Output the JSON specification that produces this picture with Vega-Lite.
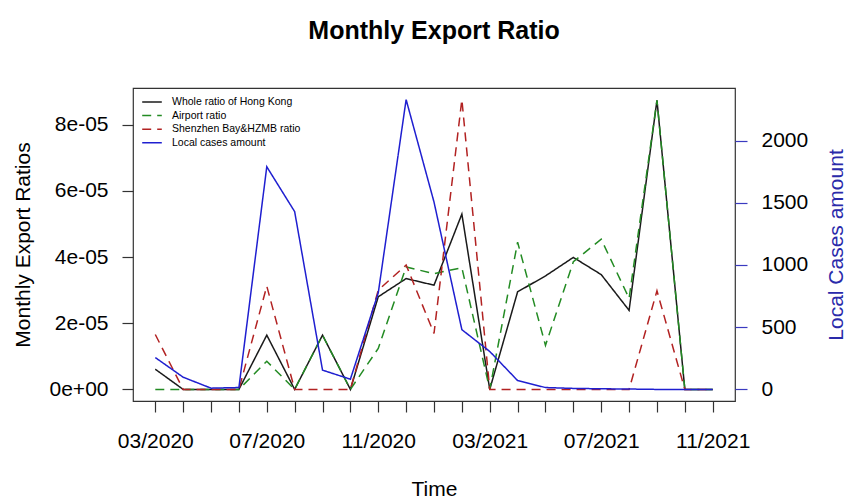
{
  "$schema": "https://vega.github.io/schema/vega-lite/v6.json",
  "width": 602,
  "height": 313,
  "autosize": {"type": "none"},
  "padding": {"left": 133, "top": 88, "right": 111, "bottom": 98},
  "background": "white",
  "config": {
    "font": "Liberation Sans",
    "view": {"stroke": "#333333", "strokeWidth": 1.2},
    "axis": {"grid": false, "domain": false}
  },
  "title": {
    "text": "Monthly Export Ratio",
    "fontSize": 25,
    "fontWeight": "bold",
    "font": "Liberation Sans",
    "color": "#000000",
    "anchor": "middle",
    "frame": "group",
    "baseline": "alphabetic",
    "offset": 24
  },
  "data": {
    "values": [
      {"month": "03/2020", "series": "Whole ratio of Hong Kong", "value": 6.1e-6},
      {"month": "04/2020", "series": "Whole ratio of Hong Kong", "value": 0},
      {"month": "05/2020", "series": "Whole ratio of Hong Kong", "value": 0},
      {"month": "06/2020", "series": "Whole ratio of Hong Kong", "value": 0},
      {"month": "07/2020", "series": "Whole ratio of Hong Kong", "value": 1.64e-5},
      {"month": "08/2020", "series": "Whole ratio of Hong Kong", "value": 0},
      {"month": "09/2020", "series": "Whole ratio of Hong Kong", "value": 1.64e-5},
      {"month": "10/2020", "series": "Whole ratio of Hong Kong", "value": 0},
      {"month": "11/2020", "series": "Whole ratio of Hong Kong", "value": 2.80e-5},
      {"month": "12/2020", "series": "Whole ratio of Hong Kong", "value": 3.35e-5},
      {"month": "01/2021", "series": "Whole ratio of Hong Kong", "value": 3.15e-5},
      {"month": "02/2021", "series": "Whole ratio of Hong Kong", "value": 5.30e-5},
      {"month": "03/2021", "series": "Whole ratio of Hong Kong", "value": 0},
      {"month": "04/2021", "series": "Whole ratio of Hong Kong", "value": 2.95e-5},
      {"month": "05/2021", "series": "Whole ratio of Hong Kong", "value": 3.43e-5},
      {"month": "06/2021", "series": "Whole ratio of Hong Kong", "value": 3.99e-5},
      {"month": "07/2021", "series": "Whole ratio of Hong Kong", "value": 3.47e-5},
      {"month": "08/2021", "series": "Whole ratio of Hong Kong", "value": 2.39e-5},
      {"month": "09/2021", "series": "Whole ratio of Hong Kong", "value": 8.74e-5},
      {"month": "10/2021", "series": "Whole ratio of Hong Kong", "value": 0},
      {"month": "11/2021", "series": "Whole ratio of Hong Kong", "value": 0},
      {"month": "03/2020", "series": "Airport ratio", "value": 0},
      {"month": "04/2020", "series": "Airport ratio", "value": 0},
      {"month": "05/2020", "series": "Airport ratio", "value": 0},
      {"month": "06/2020", "series": "Airport ratio", "value": 0},
      {"month": "07/2020", "series": "Airport ratio", "value": 8.5e-6},
      {"month": "08/2020", "series": "Airport ratio", "value": 0},
      {"month": "09/2020", "series": "Airport ratio", "value": 1.64e-5},
      {"month": "10/2020", "series": "Airport ratio", "value": 0},
      {"month": "11/2020", "series": "Airport ratio", "value": 1.24e-5},
      {"month": "12/2020", "series": "Airport ratio", "value": 3.70e-5},
      {"month": "01/2021", "series": "Airport ratio", "value": 3.50e-5},
      {"month": "02/2021", "series": "Airport ratio", "value": 3.68e-5},
      {"month": "03/2021", "series": "Airport ratio", "value": 0},
      {"month": "04/2021", "series": "Airport ratio", "value": 4.45e-5},
      {"month": "05/2021", "series": "Airport ratio", "value": 1.33e-5},
      {"month": "06/2021", "series": "Airport ratio", "value": 3.86e-5},
      {"month": "07/2021", "series": "Airport ratio", "value": 4.54e-5},
      {"month": "08/2021", "series": "Airport ratio", "value": 2.75e-5},
      {"month": "09/2021", "series": "Airport ratio", "value": 8.74e-5},
      {"month": "10/2021", "series": "Airport ratio", "value": 0},
      {"month": "11/2021", "series": "Airport ratio", "value": 0},
      {"month": "03/2020", "series": "Shenzhen Bay&HZMB ratio", "value": 1.66e-5},
      {"month": "04/2020", "series": "Shenzhen Bay&HZMB ratio", "value": 0},
      {"month": "05/2020", "series": "Shenzhen Bay&HZMB ratio", "value": 0},
      {"month": "06/2020", "series": "Shenzhen Bay&HZMB ratio", "value": 0},
      {"month": "07/2020", "series": "Shenzhen Bay&HZMB ratio", "value": 3.12e-5},
      {"month": "08/2020", "series": "Shenzhen Bay&HZMB ratio", "value": 0},
      {"month": "09/2020", "series": "Shenzhen Bay&HZMB ratio", "value": 0},
      {"month": "10/2020", "series": "Shenzhen Bay&HZMB ratio", "value": 0},
      {"month": "11/2020", "series": "Shenzhen Bay&HZMB ratio", "value": 3.00e-5},
      {"month": "12/2020", "series": "Shenzhen Bay&HZMB ratio", "value": 3.76e-5},
      {"month": "01/2021", "series": "Shenzhen Bay&HZMB ratio", "value": 1.69e-5},
      {"month": "02/2021", "series": "Shenzhen Bay&HZMB ratio", "value": 8.76e-5},
      {"month": "03/2021", "series": "Shenzhen Bay&HZMB ratio", "value": 0},
      {"month": "04/2021", "series": "Shenzhen Bay&HZMB ratio", "value": 0},
      {"month": "05/2021", "series": "Shenzhen Bay&HZMB ratio", "value": 0},
      {"month": "06/2021", "series": "Shenzhen Bay&HZMB ratio", "value": 0},
      {"month": "07/2021", "series": "Shenzhen Bay&HZMB ratio", "value": 0},
      {"month": "08/2021", "series": "Shenzhen Bay&HZMB ratio", "value": 0},
      {"month": "09/2021", "series": "Shenzhen Bay&HZMB ratio", "value": 2.98e-5},
      {"month": "10/2021", "series": "Shenzhen Bay&HZMB ratio", "value": 0},
      {"month": "11/2021", "series": "Shenzhen Bay&HZMB ratio", "value": 0},
      {"month": "03/2020", "series": "Local cases amount", "value": 256},
      {"month": "04/2020", "series": "Local cases amount", "value": 98},
      {"month": "05/2020", "series": "Local cases amount", "value": 10},
      {"month": "06/2020", "series": "Local cases amount", "value": 15},
      {"month": "07/2020", "series": "Local cases amount", "value": 1789},
      {"month": "08/2020", "series": "Local cases amount", "value": 1429},
      {"month": "09/2020", "series": "Local cases amount", "value": 155},
      {"month": "10/2020", "series": "Local cases amount", "value": 82},
      {"month": "11/2020", "series": "Local cases amount", "value": 776},
      {"month": "12/2020", "series": "Local cases amount", "value": 2329},
      {"month": "01/2021", "series": "Local cases amount", "value": 1506},
      {"month": "02/2021", "series": "Local cases amount", "value": 480},
      {"month": "03/2021", "series": "Local cases amount", "value": 305},
      {"month": "04/2021", "series": "Local cases amount", "value": 71},
      {"month": "05/2021", "series": "Local cases amount", "value": 15},
      {"month": "06/2021", "series": "Local cases amount", "value": 8},
      {"month": "07/2021", "series": "Local cases amount", "value": 5},
      {"month": "08/2021", "series": "Local cases amount", "value": 3},
      {"month": "09/2021", "series": "Local cases amount", "value": 0},
      {"month": "10/2021", "series": "Local cases amount", "value": 0},
      {"month": "11/2021", "series": "Local cases amount", "value": 0}
    ]
  },
  "encoding": {
    "x": {
      "field": "month",
      "type": "ordinal",
      "sort": null,
      "scale": {"type": "point", "padding": 0.8},
      "axis": {
        "title": "Time",
        "titleFontSize": 21,
        "titleFontWeight": "normal",
        "titleColor": "#000000",
        "titlePadding": 27,
        "labelAngle": 0,
        "labelFontSize": 21,
        "labelColor": "#000000",
        "labelPadding": 18,
        "labelOverlap": false,
        "labelBound": false,
        "labelFlush": false,
        "tickSize": 11,
        "tickColor": "#333333",
        "tickWidth": 1.2,
        "labelExpr": "indexof(['03/2020','07/2020','11/2020','03/2021','07/2021','11/2021'], datum.value) >= 0 ? datum.value : ''"
      }
    },
    "color": {
      "field": "series",
      "type": "nominal",
      "scale": {
        "domain": ["Whole ratio of Hong Kong", "Airport ratio", "Shenzhen Bay&HZMB ratio", "Local cases amount"],
        "range": ["#1a1a1a", "#238b23", "#b22222", "#1f1fd0"]
      },
      "legend": {
        "title": null,
        "orient": "none",
        "legendX": 7,
        "legendY": 2,
        "padding": 5,
        "labelFontSize": 10.5,
        "labelColor": "#000000",
        "labelOffset": 13,
        "symbolType": "M-1.6,0H1.6",
        "symbolSize": 150,
        "symbolStrokeWidth": 1.5,
        "rowPadding": 0.6,
        "fillColor": "transparent",
        "strokeColor": "transparent"
      }
    },
    "strokeDash": {
      "field": "series",
      "type": "nominal",
      "scale": {
        "domain": ["Whole ratio of Hong Kong", "Airport ratio", "Shenzhen Bay&HZMB ratio", "Local cases amount"],
        "range": [[1, 0], [9, 6], [9, 6], [1, 0]]
      },
      "legend": {
        "title": null,
        "orient": "none",
        "legendX": 7,
        "legendY": 2,
        "padding": 5,
        "labelFontSize": 10.5,
        "labelColor": "#000000",
        "labelOffset": 13,
        "symbolType": "M-1.6,0H1.6",
        "symbolSize": 150,
        "symbolStrokeWidth": 1.5,
        "rowPadding": 0.6
      }
    }
  },
  "layer": [
    {
      "transform": [{"filter": "datum.series != 'Local cases amount'"}],
      "mark": {"type": "line", "strokeWidth": 1.5},
      "encoding": {
        "y": {
          "field": "value",
          "type": "quantitative",
          "scale": {"domain": [-3.504e-6, 9.1104e-5], "nice": false, "zero": false},
          "axis": {
            "orient": "left",
            "values": [0, 2e-5, 4e-5, 6e-5, 8e-5],
            "labelExpr": "datum.value == 0 ? '0e+00' : round(datum.value * 1e5) + 'e-05'",
            "labelFontSize": 21,
            "labelColor": "#000000",
            "labelPadding": 14,
            "tickSize": 11,
            "tickColor": "#333333",
            "tickWidth": 1.2,
            "title": "Monthly Export Ratios",
            "titleFontSize": 21,
            "titleFontWeight": "normal",
            "titleColor": "#000000",
            "titlePadding": 16
          }
        }
      }
    },
    {
      "transform": [{"filter": "datum.series == 'Local cases amount'"}],
      "mark": {"type": "line", "strokeWidth": 1.5},
      "encoding": {
        "y": {
          "field": "value",
          "type": "quantitative",
          "scale": {"domain": [-93.16, 2422.16], "nice": false, "zero": false},
          "axis": {
            "orient": "right",
            "values": [0, 500, 1000, 1500, 2000],
            "format": "d",
            "labelFontSize": 21,
            "labelColor": "#000000",
            "labelPadding": 14,
            "tickSize": 12,
            "tickColor": "#3a3ac0",
            "tickWidth": 1.2,
            "title": "Local Cases amount",
            "titleFontSize": 21,
            "titleFontWeight": "normal",
            "titleColor": "#2a2aaa",
            "titleAngle": 270,
            "titleBaseline": "top",
            "titlePadding": 18
          }
        }
      }
    }
  ],
  "resolve": {"scale": {"y": "independent"}}
}
